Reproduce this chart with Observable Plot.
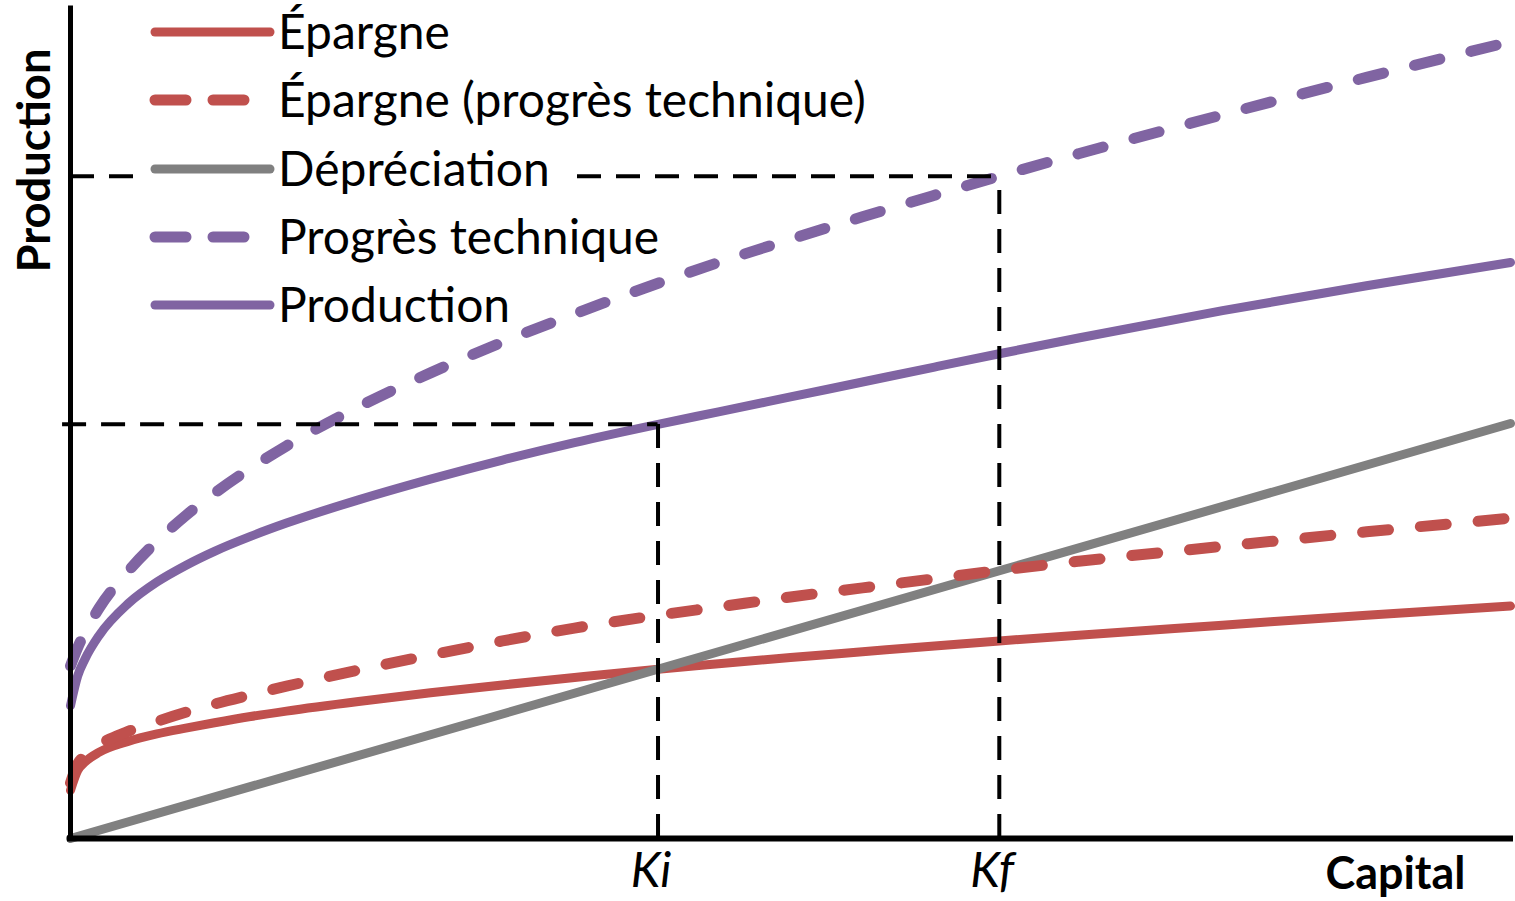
<!DOCTYPE html>
<html><head><meta charset="utf-8">
<script src="https://cdn.jsdelivr.net/npm/d3@7"></script>
<script src="https://cdn.jsdelivr.net/npm/@observablehq/plot@0.6"></script>
<style>
html,body{margin:0;padding:0;background:#fff;}
#wrap{position:relative;width:1515px;height:901px;overflow:hidden;}
#legend{position:absolute;left:140px;top:0;width:760px;height:345px;}
</style></head><body><div id="wrap"></div>
<script>
// ---- data ----
const capital          = [0, 0.5, 1, 2, 4, 6, 8, 10, 12.5, 15, 20, 25, 30, 35, 40.8, 45, 50, 55, 60, 64.5, 70, 80, 90, 100];
const epargne          = [5.8, 8.2, 9.2, 10.4, 11.7, 12.6, 13.3, 13.95, 14.7, 15.35, 16.5, 17.55, 18.5, 19.4, 20.4, 21.05, 21.8, 22.5, 23.2, 23.8, 24.5, 25.7, 26.9, 28.0];
const epargneProgres   = [6.7, 9.0, 10.0, 11.3, 12.9, 14.1, 15.2, 16.2, 17.3, 18.35, 20.3, 22.1, 23.8, 25.35, 26.9, 27.9, 29.1, 30.2, 31.3, 32.3, 33.4, 35.2, 36.95, 38.6];
const production       = [16.0, 19.6, 21.6, 24.5, 28.3, 30.9, 32.9, 34.6, 36.4, 38.0, 40.8, 43.3, 45.6, 47.7, 49.9, 51.4, 53.2, 55.0, 56.8, 58.4, 60.3, 63.6, 66.6, 69.4];
const progresTechnique = [20.8, 23.0, 24.8, 27.8, 32.2, 35.8, 38.9, 41.6, 44.6, 47.3, 52.0, 56.1, 59.8, 63.2, 66.9, 69.4, 72.2, 74.9, 77.5, 79.8, 82.5, 87.2, 91.7, 96.0];
const deprCapital      = [0, 100];
const depreciation     = [0, 50];

const kLabels    = ["Ki", "Kf"];
const kValues    = [40.8, 64.5];
const kOutput    = [49.9, 79.8];
const guideStart = [-0.55, 0];

const seriesNames  = ["Épargne", "Épargne (progrès technique)", "Dépréciation", "Progrès technique", "Production"];
const seriesColors = ["#C0504D", "#C0504D", "#808080", "#8064A2", "#8064A2"];
const seriesDashed = [false, true, false, true, false];
const xLabel = "Capital";
const yLabel = "Production";

// ---- font sizing ----
const FONT = "Lato, 'Open Sans', sans-serif";
const ctx = document.createElement("canvas").getContext("2d");
function fit(text, weight, style, target) {
  ctx.font = `${style} ${weight} 100px Lato`;
  return 100 * target / ctx.measureText(text).width;
}
const legendSize = fit(seriesNames[1], "normal", "normal", 588);
const yLabelSize = fit(yLabel, "bold", "normal", 224);
const xLabelSize = fit(xLabel, "bold", "normal", 140);

// ---- series tables ----
const seriesValues = [epargne, epargneProgres, null, progresTechnique, production];
const tables = seriesNames.map((name, s) => {
  const xs = s === 2 ? deprCapital : capital;
  const ys = s === 2 ? depreciation : seriesValues[s];
  return xs.map((k, i) => ({k, v: ys[i], name}));
});
const guides = kValues.map((k, i) => ({k, y: kOutput[i], x0: guideStart[i], label: kLabels[i]}));

const lineMarks = [0, 2, 1, 4, 3].map(s => Plot.line(tables[s], {
  x: "k", y: "v", stroke: seriesColors[s],
  strokeWidth: seriesDashed[s] ? 11 : 9,
  strokeDasharray: seriesDashed[s] ? "26,32" : null,
  strokeLinecap: "round", strokeLinejoin: "round",
  curve: "monotone-x"
}));

const chart = Plot.plot({
  width: 1515, height: 901,
  marginLeft: 70, marginRight: 5, marginTop: 8, marginBottom: 63,
  style: {fontFamily: FONT, background: "#fff"},
  x: {domain: [0, 100], axis: null},
  y: {domain: [0, 100], axis: null},
  marks: [
    ...lineMarks,
    Plot.ruleX(guides, {x: "k", y1: 0, y2: "y", stroke: "#000", strokeWidth: 4, strokeDasharray: "24,15"}),
    Plot.ruleY(guides, {y: "y", x1: "x0", x2: "k", stroke: "#000", strokeWidth: 4, strokeDasharray: "24,15"}),
    Plot.ruleX([0], {stroke: "#000", strokeWidth: 5, strokeLinecap: "square"}),
    Plot.ruleY([0], {stroke: "#000", strokeWidth: 6, strokeLinecap: "square"}),
    Plot.text(guides, {x: "k", text: "label", frameAnchor: "bottom", dy: 33, dx: -7,
      fontStyle: "italic", fontSize: legendSize, fill: "#000", lineAnchor: "middle", textAnchor: "middle"}),
    Plot.text([xLabel], {text: d => d, frameAnchor: "bottom-right", dx: -115, dy: 36,
      fontWeight: "bold", fontSize: xLabelSize, fill: "#000", lineAnchor: "middle", textAnchor: "middle"}),
    Plot.text([yLabel], {text: d => d, frameAnchor: "top-left", dx: -35, dy: 152, rotate: -90,
      fontWeight: "bold", fontSize: yLabelSize, fill: "#000", lineAnchor: "middle", textAnchor: "middle"})
  ]
});
const wrap = document.getElementById("wrap");
wrap.appendChild(chart);

// ---- legend overlay ----
const legend = d3.select(wrap).append("div").attr("id", "legend");
const lsvg = legend.append("svg").attr("width", 760).attr("height", 345);
lsvg.append("rect").attr("x", 0).attr("y", 0).attr("width", 428).attr("height", 272).attr("fill", "#fff");
const rowY = [32, 100, 169, 237, 305];
seriesNames.forEach((name, i) => {
  lsvg.append("line")
    .attr("x1", 15).attr("x2", 130).attr("y1", rowY[i]).attr("y2", rowY[i])
    .attr("stroke", seriesColors[i])
    .attr("stroke-width", seriesDashed[i] ? 11 : 9)
    .attr("stroke-linecap", "round")
    .attr("stroke-dasharray", seriesDashed[i] ? "31,27" : null);
  lsvg.append("text")
    .attr("x", 138).attr("y", rowY[i] + legendSize * 0.36)
    .attr("font-family", FONT).attr("font-size", legendSize).attr("fill", "#000")
    .text(name);
});
</script></body></html>
